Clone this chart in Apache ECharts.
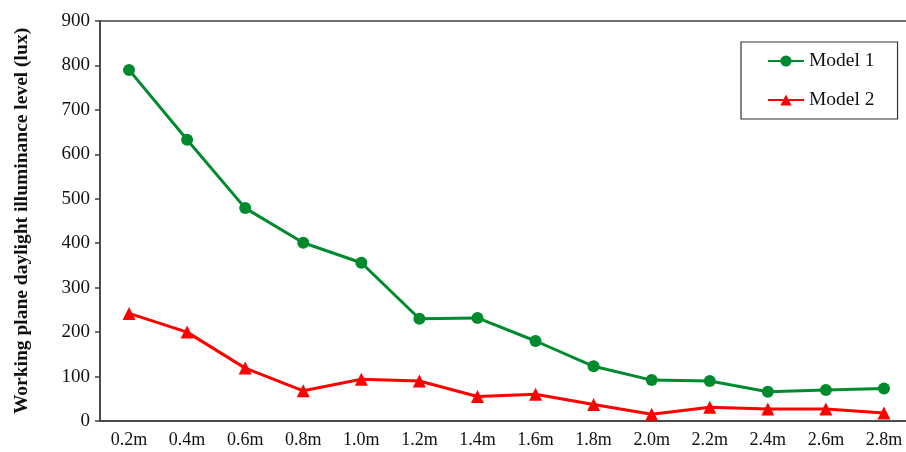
<!DOCTYPE html>
<html>
<head>
<meta charset="utf-8">
<script src="https://cdn.jsdelivr.net/npm/echarts@6/dist/echarts.min.js"></script>
<style>html,body{margin:0;padding:0;background:#fff}#c{width:906px;height:452px}</style>
</head>
<body>
<div id="c"></div>
<script>
var categories = ['0.2m','0.4m','0.6m','0.8m','1.0m','1.2m','1.4m','1.6m','1.8m','2.0m','2.2m','2.4m','2.6m','2.8m'];
var model1 = [790, 633, 479, 401, 356, 230, 232, 180, 123, 92, 90, 66, 70, 73];
var model2 = [242, 200, 119, 68, 94, 90, 55, 60, 37, 15, 31, 27, 27, 18];
var yTicks = [0, 100, 200, 300, 400, 500, 600, 700, 800, 900];

var font = 'Liberation Serif, Times New Roman, serif';
var axisColor = '#404040';
var chart = echarts.init(document.getElementById('c'));
chart.setOption({
  animation: false,
  grid: { left: 100, top: 21, bottom: 31, right: -7, outerBoundsMode: 'none', containLabel: false,
          show: true, borderColor: axisColor, borderWidth: 1.5, backgroundColor: 'transparent' },
  legend: {
    orient: 'vertical',
    left: 741, top: 42,
    padding: [9, 23, 9, 26],
    itemGap: 19,
    itemWidth: 36, itemHeight: 14,
    itemTextGap: 4,
    borderColor: '#333', borderWidth: 1.2,
    textStyle: { fontFamily: font, fontSize: 19.5, color: '#111' },
    data: ['Model 1', 'Model 2']
  },
  xAxis: {
    type: 'category',
    data: categories,
    boundaryGap: true,
    axisLine: { lineStyle: { color: axisColor, width: 1.5 } },
    axisTick: { alignWithLabel: true, inside: true, length: 7, lineStyle: { color: axisColor, width: 1.5 } },
    axisLabel: { fontFamily: font, fontSize: 18, color: '#111', margin: 10 },
    splitLine: { show: false }
  },
  yAxis: {
    type: 'value',
    min: yTicks[0], max: yTicks[yTicks.length - 1], interval: 100,
    name: 'Working plane daylight illuminance level (lux)',
    nameLocation: 'middle', nameGap: 68,
    nameTextStyle: { fontFamily: font, fontSize: 19.5, fontWeight: 'bold', color: '#111' },
    axisLine: { show: true, lineStyle: { color: axisColor, width: 1.5 } },
    axisTick: { show: true, length: 5, lineStyle: { color: axisColor, width: 1.5 } },
    axisLabel: { fontFamily: font, fontSize: 19, color: '#111', margin: 10 },
    splitLine: { show: false }
  },
  series: [
    { name: 'Model 1', type: 'line', data: model1, symbol: 'circle', symbolSize: 12,
      lineStyle: { color: '#008A2E', width: 3 }, itemStyle: { color: '#008A2E' } },
    { name: 'Model 2', type: 'line', data: model2, symbol: 'triangle', symbolSize: 13,
      lineStyle: { color: '#FF0000', width: 3 }, itemStyle: { color: '#FF0000' } }
  ]
});
</script>
</body>
</html>
